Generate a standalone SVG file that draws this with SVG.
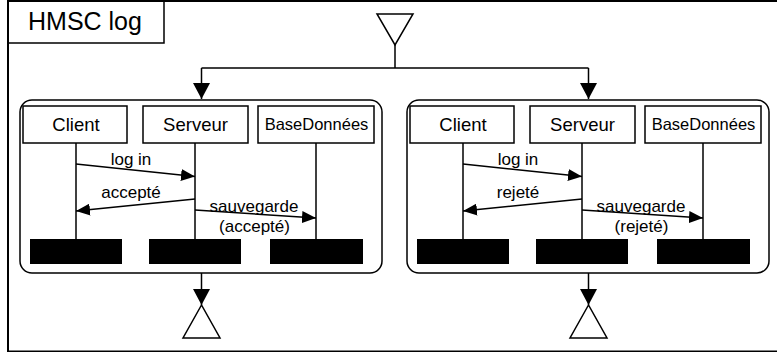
<svg xmlns="http://www.w3.org/2000/svg" width="777" height="352" viewBox="0 0 777 352">
<defs>
<style>
.ln{fill:none;stroke:#000;stroke-width:1.5}
.box{fill:#fff;stroke:#000;stroke-width:1.5}
.bar{fill:#000}
.t{font-family:"Liberation Sans",Arial,sans-serif;fill:#000}
.actor{font-size:18.5px;text-anchor:middle}
.msg{font-size:17px;text-anchor:middle}
</style>
<marker id="ah" viewBox="0 0 14 12" refX="14" refY="6" markerWidth="14" markerHeight="12" markerUnits="userSpaceOnUse" orient="auto">
<path d="M0 0 L14 6 L0 12 Z" fill="#000"/>
</marker>
<marker id="ahb" viewBox="0 0 16 17" refX="16" refY="8.5" markerWidth="16" markerHeight="17" markerUnits="userSpaceOnUse" orient="auto">
<path d="M0 0 L16 8.5 L0 17 Z" fill="#000"/>
</marker>
</defs>
<rect width="777" height="352" fill="#fff"/>
<g id="frame">
<rect x="8" y="1" width="800" height="350.5" fill="none" stroke="#000" stroke-width="2"/>
<path d="M8 43 H164 V1" fill="none" stroke="#000" stroke-width="1.5"/>
<text class="t" x="28" y="30" font-size="25">HMSC log</text>
</g>
<g id="start">
<polygon points="377,14 413,14 395,45" class="box"/>
</g>
<g id="connectors">
<path d="M395 45 V68 M201.5 68 H588.5" class="ln"/>
<path d="M201.5 68 V99" class="ln" marker-end="url(#ahb)"/>
<path d="M588.5 68 V99" class="ln" marker-end="url(#ahb)"/>
<path d="M201.5 273 V305" class="ln" marker-end="url(#ahb)"/>
<path d="M588.5 273 V305" class="ln" marker-end="url(#ahb)"/>
</g>
<g id="end-left">
<polygon points="201.5,305 183,338 220,338" class="box"/>
</g>
<g id="end-right">
<polygon points="588.5,305 570,338 607,338" class="box"/>
</g>
<g id="msc-accepte">
<rect x="20" y="100" width="362" height="173" rx="12" class="box"/>
<g id="accepte-client">
<rect x="23" y="106" width="104" height="37" class="box"/>
<text class="t actor" x="76" y="131">Client</text>
<path d="M76 143 V239" class="ln"/>
<rect x="30" y="239" width="92" height="25" class="bar"/>
</g>
<g id="accepte-serveur">
<rect x="143" y="106" width="105" height="37" class="box"/>
<text class="t actor" x="195.5" y="131">Serveur</text>
<path d="M195 143 V239" class="ln"/>
<rect x="149" y="239" width="92" height="25" class="bar"/>
</g>
<g id="accepte-bd">
<rect x="258" y="106" width="116" height="37" class="box"/>
<text class="t" x="316.5" y="130" font-size="16.5" text-anchor="middle">BaseDonnées</text>
<path d="M316 143 V239" class="ln"/>
<rect x="270" y="239" width="93" height="25" class="bar"/>
</g>
<g id="accepte-messages">
<path d="M76 164 L195 176.5" class="ln" marker-end="url(#ah)"/>
<text class="t msg" x="131" y="165">log in</text>
<path d="M195 199 L76 211" class="ln" marker-end="url(#ah)"/>
<text class="t msg" x="131" y="198">accepté</text>
<path d="M195 210 L316 218" class="ln" marker-end="url(#ah)"/>
<text class="t msg" x="254" y="212">sauvegarde</text>
<text class="t msg" x="254.5" y="232">(accepté)</text>
</g>
</g>
<g id="msc-rejete" transform="translate(387,0)">
<rect x="20" y="100" width="362" height="173" rx="12" class="box"/>
<g id="rejete-client">
<rect x="23" y="106" width="104" height="37" class="box"/>
<text class="t actor" x="76" y="131">Client</text>
<path d="M76 143 V239" class="ln"/>
<rect x="30" y="239" width="92" height="25" class="bar"/>
</g>
<g id="rejete-serveur">
<rect x="143" y="106" width="105" height="37" class="box"/>
<text class="t actor" x="195.5" y="131">Serveur</text>
<path d="M195 143 V239" class="ln"/>
<rect x="149" y="239" width="92" height="25" class="bar"/>
</g>
<g id="rejete-bd">
<rect x="258" y="106" width="116" height="37" class="box"/>
<text class="t" x="316.5" y="130" font-size="16.5" text-anchor="middle">BaseDonnées</text>
<path d="M316 143 V239" class="ln"/>
<rect x="270" y="239" width="93" height="25" class="bar"/>
</g>
<g id="rejete-messages">
<path d="M76 164 L195 176.5" class="ln" marker-end="url(#ah)"/>
<text class="t msg" x="131" y="165">log in</text>
<path d="M195 199 L76 211" class="ln" marker-end="url(#ah)"/>
<text class="t msg" x="131" y="198">rejeté</text>
<path d="M195 210 L316 218" class="ln" marker-end="url(#ah)"/>
<text class="t msg" x="254" y="212">sauvegarde</text>
<text class="t msg" x="254.5" y="232">(rejeté)</text>
</g>
</g>
</svg>
